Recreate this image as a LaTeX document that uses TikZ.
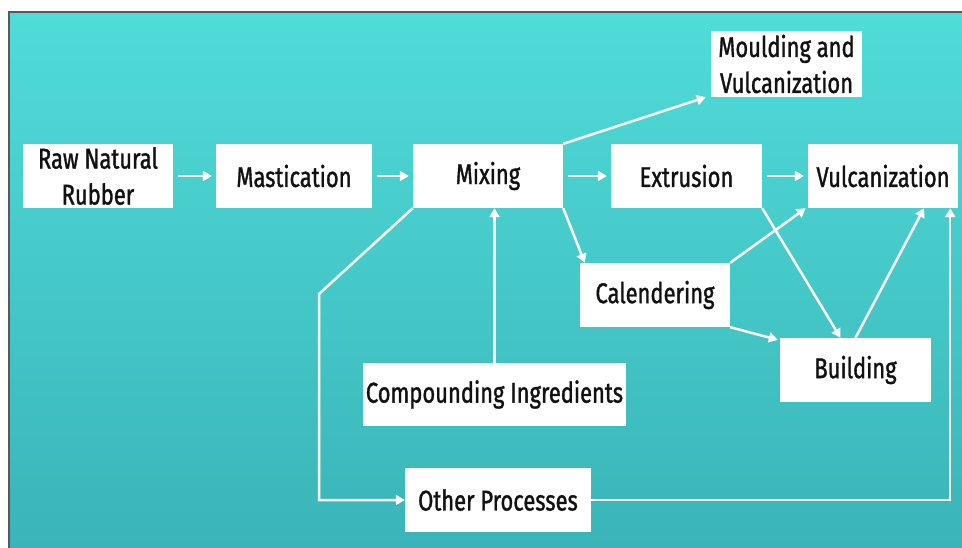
\documentclass[tikz,border=0pt]{standalone}
\usepackage{fontspec}
\setmainfont[FakeStretch=0.77,FakeBold=1.2]{Fira Sans}
\usetikzlibrary{arrows.meta,calc}
\definecolor{bgtop}{RGB}{80,220,216}
\definecolor{bgbot}{RGB}{58,180,184}
\definecolor{txt}{RGB}{17,17,17}
\tikzset{
  box/.style={fill=white,draw=none,inner sep=0pt,align=center,text=txt,
    font=\fontsize{28.5}{36}\selectfont},
  arr/.style={draw=white,line width=2.5pt,
    -{Triangle[length=9pt,width=10pt]}},
}
\begin{document}
\begin{tikzpicture}[x=1pt,y=-1pt]
\useasboundingbox (0,0) rectangle (962,548);
\shade[top color=bgtop,bottom color=bgbot] (9,12) rectangle (962,548);
\draw[line width=1.2pt,color=black!65] (9,548) -- (9,12) -- (962,12);

\node[box,minimum width=150pt,minimum height=64pt] (raw) at (98,176) {Raw Natural\\Rubber};
\node[box,minimum width=156pt,minimum height=64pt] (mast) at (294,176) {Mastication};
\node[box,minimum width=150pt,minimum height=64pt] (mix) at (488,176) {Mixing};
\node[box,minimum width=151pt,minimum height=64pt] (ext) at (686.5,176) {Extrusion};
\node[box,minimum width=150pt,minimum height=64pt] (vulc) at (883,176) {Vulcanization};
\node[box,minimum width=151pt,minimum height=66pt] (mould) at (786.5,64) {Moulding and\\Vulcanization};
\node[box,minimum width=150pt,minimum height=64pt] (cal) at (655,295) {Calendering};
\node[box,minimum width=151pt,minimum height=64pt] (build) at (855.5,370) {Building};
\node[box,minimum width=263pt,minimum height=63pt] (comp) at (494.5,394.5) {Compounding Ingredients};
\node[box,minimum width=186pt,minimum height=64pt] (other) at (498,500) {Other Processes};

\coordinate (bend) at (319,294);

\draw[arr,shorten <=5pt,shorten >=4pt] (raw.east) -- (mast.west);
\draw[arr,shorten <=5pt,shorten >=4pt] (mast.east) -- (mix.west);
\draw[arr,shorten <=5pt,shorten >=4pt] (mix.east) -- (ext.west);
\draw[arr,shorten <=5pt,shorten >=4pt] (ext.east) -- (vulc.west);

\draw[arr] (mix.north east) -- ([xshift=-5pt]mould.south west);
\draw[arr] (mix.south east) -- ([xshift=5pt]cal.north west);
\draw[arr] (mix.south west) -- (bend) |- (other.west);
\draw[arr] (comp.north) -- (comp.north |- mix.south);
\draw[arr] (ext.south east) -- ([xshift=-15pt]build.north);
\draw[arr] (cal.north east) -- ([xshift=-2pt]vulc.south west);
\draw[arr] (cal.south east) -- ([xshift=-2pt,yshift=-2pt]build.north west);
\draw[arr] (build.north) -- ([xshift=41pt]vulc.south);
\draw[arr] (other.east) -| ([xshift=-8pt]vulc.south east);
\end{tikzpicture}
\end{document}
